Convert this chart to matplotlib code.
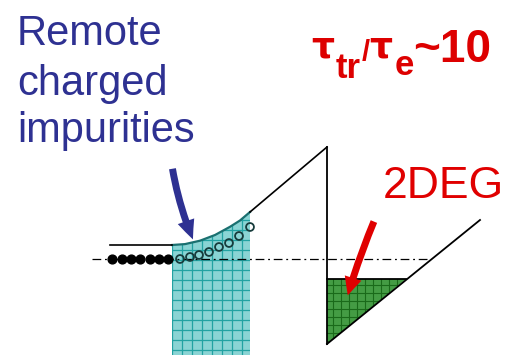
import matplotlib
matplotlib.use("Agg")
import matplotlib.pyplot as plt
from matplotlib.patches import Polygon, FancyArrowPatch
import numpy as np

# ---- diagram data (pixel coordinates of the sketch) ----
flat_x = [110, 172]
flat_y = [245, 245]
curve_x = [172, 185, 200, 215, 230, 240, 250]
curve_y = [245, 244.1, 240.7, 235, 226.8, 220.5, 212]
slope_x = [250, 327]
slope_y = [212, 147]
drop_x = [327, 327]
drop_y = [147, 344]
well_x = [327, 480]
well_y = [344, 220]
fermi_x = [92, 430]
fermi_y = [259, 259]
tri_x = [327, 406, 327]
tri_y = [279, 279, 344]
filled_x = [112, 122, 131, 140, 150, 159, 168]
filled_y = [259, 259, 259, 259, 259, 259, 259]
open_x = [180, 190, 199, 209, 219, 229, 239, 250]
open_y = [259, 257, 255, 252, 247, 243, 236, 227]
barrier_bottom = 355

BLUE = "#2e3192"
RED = "#e00000"

fig = plt.figure(figsize=(5.13, 3.55), dpi=100)
ax = fig.add_axes([0, 0, 1, 1])
ax.set_xlim(0, 513)
ax.set_ylim(355, 0)
ax.axis("off")

# cyan doped barrier region
cx = np.array(curve_x)
cy = np.array(curve_y)
poly_pts = list(zip(cx, cy)) + [(cx[-1], barrier_bottom), (cx[0], barrier_bottom)]
cyan = Polygon(poly_pts, closed=True, facecolor="#8ad4d4", edgecolor="none", zorder=1)
ax.add_patch(cyan)
for gx in np.arange(cx[0], cx[-1] + 1, 10):
    ln, = ax.plot([gx, gx], [150, barrier_bottom], color="#22a2a2", lw=0.9, zorder=2)
    ln.set_clip_path(cyan)
for gy in np.arange(barrier_bottom - 5, 150, -10):
    ln, = ax.plot([cx[0], cx[-1]], [gy, gy], color="#22a2a2", lw=0.9, zorder=2)
    ln.set_clip_path(cyan)
ax.plot(curve_x, curve_y, color="#1a7070", lw=1.6, zorder=3)

# green 2DEG triangle
tri = Polygon(list(zip(tri_x, tri_y)), closed=True, facecolor="#449c44",
              edgecolor="none", zorder=1)
ax.add_patch(tri)
for gx in np.arange(tri_x[0] + 6, tri_x[1], 8):
    ln, = ax.plot([gx, gx], [270, 350], color="#1a6a1a", lw=0.8, zorder=2)
    ln.set_clip_path(tri)
for gy in np.arange(tri_y[0] + 6, tri_y[2], 8):
    ln, = ax.plot([320, 410], [gy, gy], color="#1a6a1a", lw=0.8, zorder=2)
    ln.set_clip_path(tri)
ax.plot([tri_x[0], tri_x[1]], [tri_y[0], tri_y[1]], color="black", lw=1.3, zorder=4)

# band edge lines
ax.plot(flat_x, flat_y, color="black", lw=1.2, zorder=4)
ax.plot(slope_x, slope_y, color="black", lw=1.2, zorder=4)
ax.plot(drop_x, drop_y, color="black", lw=1.3, zorder=4)
ax.plot(well_x, well_y, color="black", lw=1.3, zorder=4)

# Fermi level
ax.plot(fermi_x, fermi_y, color="black", lw=0.9, dashes=[7, 3, 1.5, 3], zorder=3)

# charges
ax.scatter(filled_x, filled_y, s=40, color="black", zorder=5)
ax.scatter(open_x, open_y, s=32, facecolor="none", edgecolor="#173c3c",
           linewidths=1.3, zorder=5)

# arrows
ax.add_patch(FancyArrowPatch((172, 166), (194, 242),
             arrowstyle="simple,head_width=12.5,head_length=14,tail_width=5",
             connectionstyle="arc3,rad=0.06", mutation_scale=1,
             color=BLUE, lw=0, zorder=6))
ax.add_patch(FancyArrowPatch((375, 219), (347, 298),
             arrowstyle="simple,head_width=12.5,head_length=13,tail_width=5",
             connectionstyle="arc3,rad=0.03", mutation_scale=1,
             color=RED, lw=0, zorder=6))

# texts
fam = ["Liberation Sans", "DejaVu Sans"]
for label, base in [("Remote", 45), ("charged", 95), ("impurities", 142)]:
    ax.text(17, base, label, color=BLUE, fontsize=30, family=fam, va="baseline", ha="left")
ax.text(383, 198, "2DEG", color=RED, fontsize=32, family=fam, va="baseline", ha="left")

tk = dict(color="#dd0000", family=fam, fontweight="bold", va="baseline", ha="left")
tau = dict(color="#dd0000", family="DejaVu Sans", fontweight="bold", va="baseline", ha="left")
ax.text(311, 58, "τ", fontsize=26, **tau)
ax.text(336, 78, "tr", fontsize=25, **tk)
ax.text(362, 61, "/", fontsize=21, **tk)
ax.text(369, 58, "τ", fontsize=26, **tau)
ax.text(395, 75, "e", fontsize=25, **tk)
ax.text(413, 62, "~10", fontsize=33, **tk)

fig.savefig("out.png", dpi=100)
